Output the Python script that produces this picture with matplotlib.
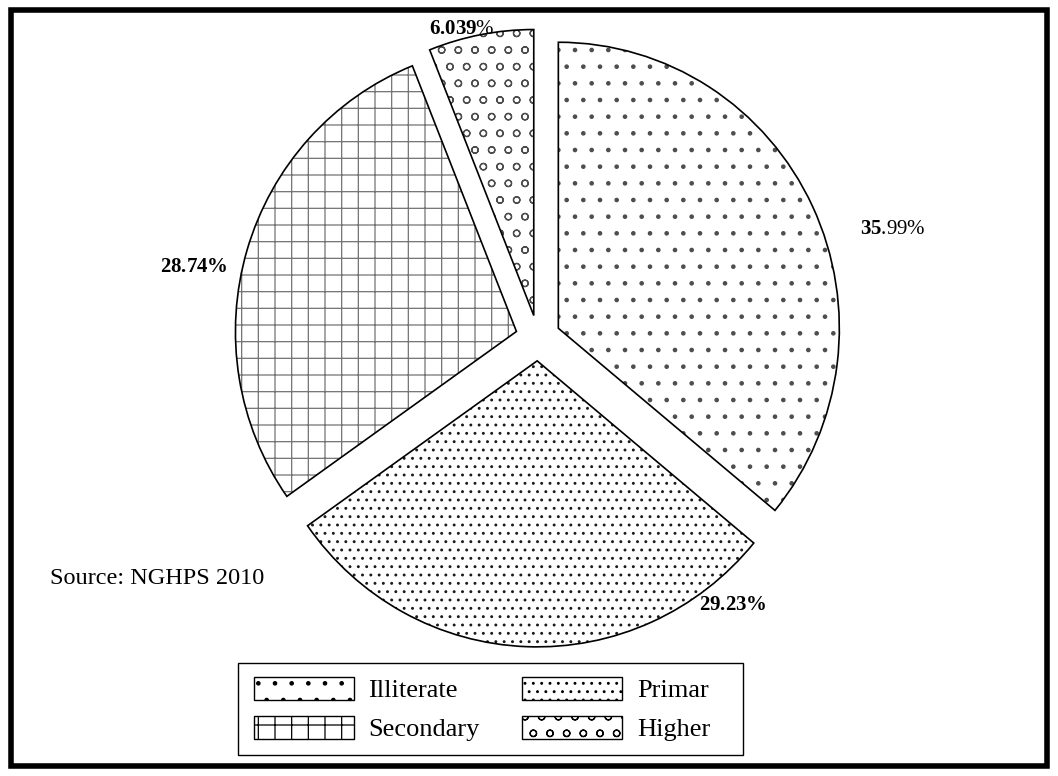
import matplotlib

matplotlib.use("Agg")
import matplotlib.pyplot as plt
from matplotlib.patches import Rectangle, Wedge

plt.rcParams["font.family"] = ["Liberation Serif", "DejaVu Serif"]
plt.rcParams["mathtext.fontset"] = "custom"
plt.rcParams["mathtext.rm"] = "Liberation Serif"
plt.rcParams["mathtext.bf"] = "Liberation Serif:bold"
plt.rcParams["hatch.linewidth"] = 0.9

# data
categories = ["Illiterate", "Primar", "Secondary", "Higher"]
shares = [35.99, 29.23, 28.74, 6.039]
pct_labels = [r"$\mathbf{35}$.99%", r"$\mathbf{29.23\%}$", r"$\mathbf{28.74\%}$", r"$\mathbf{6.039}$%"]

# styles / layout
hatches = [".", "..", "+", "o"]
hatch_colors = ["0.3", "0.1", "0.45", "0.3"]
label_px = [(893, 229), (733, 605), (194, 267), (462, 29)]  # label centres, pixels from top-left

W, H = 1058, 776
cx, cy = 538, 338      # pie centre in pixels
rx, ry = 281, 286      # radius in pixels (x, y)

fig = plt.figure(figsize=(W / 100, H / 100), dpi=100)
ax = fig.add_axes([0, 0, 1, 1])

wedges, _ = ax.pie(
    shares,
    startangle=90,
    counterclock=False,
    explode=[0.08] * len(shares),
    colors=["white"] * len(shares),
    wedgeprops=dict(linewidth=0),
)
for w, h, hc in zip(wedges, hatches, hatch_colors):
    w.set_hatch(h)
    w.set_edgecolor(hc)
    # black outline on top of the grey hatch
    ax.add_patch(Wedge(w.center, w.r, w.theta1, w.theta2, fill=False,
                       edgecolor="black", linewidth=1.2))

ax.set_aspect("auto")
ax.set_xlim(-cx / rx, (W - cx) / rx)
ax.set_ylim((cy - H) / ry, cy / ry)
ax.axis("off")

for txt, (px, py) in zip(pct_labels, label_px):
    fig.text(px / W, 1 - py / H, txt, fontsize=15, ha="center", va="center")

fig.text(50 / W, 1 - 578 / H, "Source: NGHPS 2010", fontsize=17.5, ha="left", va="center")

# legend filled row-wise: Illiterate, Primar / Secondary, Higher
order = [0, 2, 1, 3]
handles = []
for i in order:
    handles.append(Rectangle((0, 0), 1, 1, facecolor="white", edgecolor="black",
                             linewidth=1.0, hatch=hatches[i]))
leg = fig.legend(
    handles,
    [categories[i] for i in order],
    ncol=2,
    loc="center",
    bbox_to_anchor=(482 / W, 1 - 709 / H),
    fontsize=19,
    frameon=False,
    handlelength=3.8,
    handleheight=1.0,
    handletextpad=0.55,
    columnspacing=1.6,
    labelspacing=0.5,
    borderpad=0.3,
)
# legend box
fig.patches.append(
    Rectangle((238 / W, 1 - 755 / H), (743 - 238) / W, (755 - 663) / H,
              transform=fig.transFigure, fill=False, edgecolor="black", linewidth=1.0)
)

# outer frame
fig.patches.append(
    Rectangle((11 / W, 1 - 766 / H), (1047 - 11) / W, (766 - 10) / H,
              transform=fig.transFigure, fill=False, edgecolor="black", linewidth=4.0)
)

fig.savefig("out.png", dpi=100)
